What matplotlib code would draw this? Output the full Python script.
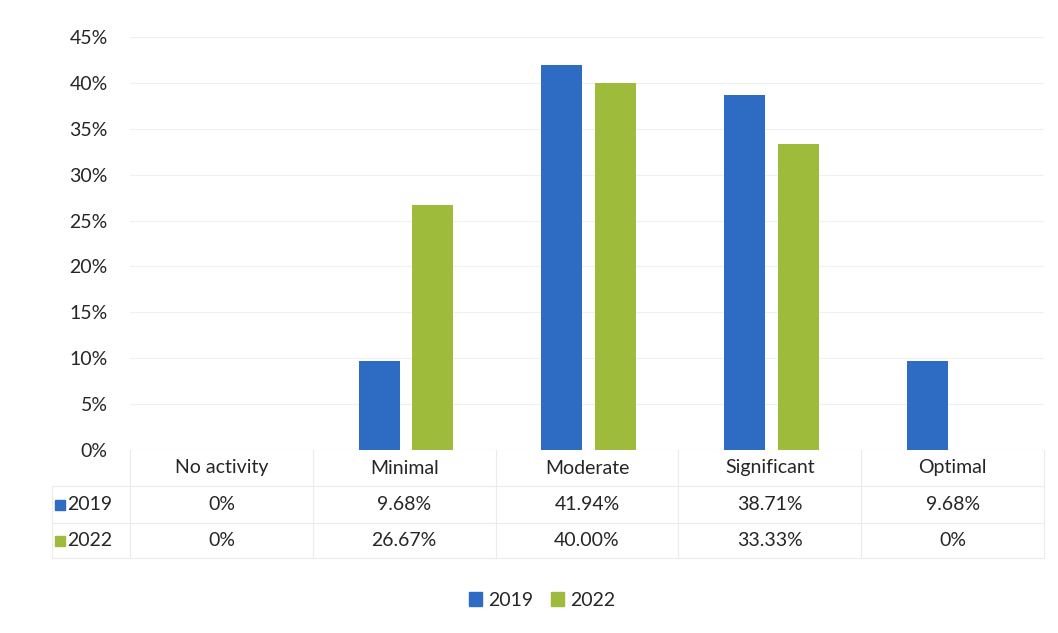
import matplotlib
matplotlib.use("Agg")
import matplotlib.pyplot as plt
import numpy as np
from matplotlib.transforms import blended_transform_factory
from matplotlib.patches import Rectangle, Patch

categories = ["No activity", "Minimal", "Moderate", "Significant", "Optimal"]
series_names = ["2019", "2022"]
values_2019 = [0.0, 9.68, 41.94, 38.71, 9.68]
values_2022 = [0.0, 26.67, 40.00, 33.33, 0.0]
labels_2019 = ["0%", "9.68%", "41.94%", "38.71%", "9.68%"]
labels_2022 = ["0%", "26.67%", "40.00%", "33.33%", "0%"]
yticks = [0, 5, 10, 15, 20, 25, 30, 35, 40, 45]

blue = "#2E6CC4"
green = "#9EBB3C"
txt = "#262626"
fs = 14
plt.rcParams['font.family'] = ['Lato', 'DejaVu Sans']

fig = plt.figure(figsize=(10.58, 6.33), dpi=100)
ax = fig.add_axes([130/1058, 1-450/633, (1044-130)/1058, (450-37)/633])

x = np.arange(len(categories))
w = 0.224
off = 0.147
ax.bar(x - off + 0.01, values_2019, w, color=blue, zorder=3)
ax.bar(x + off + 0.01, values_2022, w, color=green, zorder=3)
ax.set_xlim(-0.5, len(categories) - 0.5)
ax.set_ylim(0, 45)
ax.set_yticks(yticks)
ax.set_yticklabels([f"{t}%" for t in yticks], fontsize=fs, color=txt)
ax.tick_params(axis='y', length=0, pad=16)
ax.set_xticks([])
for s in ax.spines.values():
    s.set_visible(False)
ax.grid(axis='y', color='#F0F0F0', linewidth=0.8, zorder=0)
ax.axhline(0, color='#E6E6E6', linewidth=0.8, zorder=2)

tr = blended_transform_factory(ax.transData, ax.transAxes)
ah = 413.0
def yfrac(py):
    return (450 - py) / ah

row_y = [yfrac(468), yfrac(505), yfrac(541)]
for i, c in enumerate(categories):
    ax.text(i, row_y[0], c, transform=tr, ha='center', va='center', fontsize=fs, color=txt, clip_on=False)
    ax.text(i, row_y[1], labels_2019[i], transform=tr, ha='center', va='center', fontsize=fs, color=txt, clip_on=False)
    ax.text(i, row_y[2], labels_2022[i], transform=tr, ha='center', va='center', fontsize=fs, color=txt, clip_on=False)

def fy(py):
    return 1 - py / 633
def fx(px):
    return px / 1058
lc = '#EBEBEB'
for b in np.arange(-0.5, len(categories) + 0.5, 1.0):
    xd = ax.transData.transform((b, 0))[0] / (fig.dpi * fig.get_figwidth())
    fig.add_artist(plt.Line2D([xd, xd], [fy(450), fy(558)], color=lc, linewidth=0.8))
for py in (486, 523, 558):
    fig.add_artist(plt.Line2D([fx(52), fx(1044)], [fy(py), fy(py)], color=lc, linewidth=0.8))
fig.add_artist(plt.Line2D([fx(52), fx(52)], [fy(486), fy(558)], color=lc, linewidth=0.8))

for name, col, py in [("2019", blue, 505), ("2022", green, 541)]:
    fig.add_artist(Rectangle((fx(55), fy(py + 5)), 10/1058, 10/633, color=col, transform=fig.transFigure))
    fig.text(fx(67), fy(py), name, ha='left', va='center', fontsize=fs, color=txt)

handles = [Patch(color=blue, label="2019"), Patch(color=green, label="2022")]
fig.legend(handles=handles, loc='center', bbox_to_anchor=(fx(542), fy(600)), ncol=2, frameon=False,
           fontsize=fs, handlelength=0.7, handleheight=0.7, handletextpad=0.3, columnspacing=0.9,
           labelcolor=txt)

fig.savefig("out.png", dpi=100, facecolor='white')
